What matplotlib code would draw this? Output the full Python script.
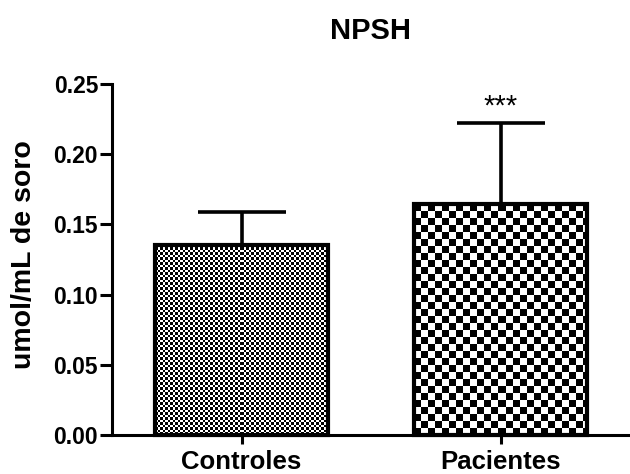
import numpy as np
import matplotlib
matplotlib.use('Agg')
import matplotlib.pyplot as plt

# ---- data ----
categories = ['Controles', 'Pacientes']
means = [0.135, 0.1645]
errors_up = [0.0235, 0.0575]
yticks = [0.00, 0.05, 0.10, 0.15, 0.20, 0.25]
ytick_labels = ['0.00', '0.05', '0.10', '0.15', '0.20', '0.25']
title_text = 'NPSH'
ylabel_text = 'umol/mL de soro'
significance = ['', '***']

plt.rcParams['font.family'] = ['Liberation Sans', 'DejaVu Sans']

fig = plt.figure(figsize=(6.3, 4.74), dpi=100)
ax = fig.add_axes([112 / 630, 39 / 474, 518 / 630, 351 / 474])
ax.set_xlim(-0.5, 1.5)
ax.set_ylim(0, 0.25)

x = np.arange(len(categories))
bar_width = 0.665
cell_px = [2.5, 7.0]

bars = ax.bar(x, means, width=bar_width, facecolor='none', edgecolor='black',
              linewidth=3, zorder=3, clip_on=False)

# checkerboard fills
for bar, cell in zip(bars, cell_px):
    x0, y0 = bar.get_x(), bar.get_y()
    x1, y1 = x0 + bar.get_width(), y0 + bar.get_height()
    (px0, py0), (px1, py1) = ax.transData.transform([(x0, y0), (x1, y1)])
    w = int(round(px1 - px0))
    h = int(round(py1 - py0))
    jj, ii = np.meshgrid(np.arange(w), np.arange(h))
    board = (np.floor(jj / cell) + np.floor(ii / cell)) % 2
    im = ax.imshow(board, cmap='gray', vmin=0, vmax=1, extent=(x0, x1, y0, y1),
                   origin='lower', interpolation='nearest', aspect='auto', zorder=2)
    im.set_clip_path(bar)

ax.set_xlim(-0.5, 1.5)
ax.set_ylim(0, 0.25)

# upper error bars
ax.errorbar(x, means, yerr=[np.zeros(len(means)), errors_up], fmt='none',
            ecolor='black', elinewidth=2.6, capsize=32, capthick=2.6, zorder=1)

for xi, m, e, s in zip(x, means, errors_up, significance):
    if s:
        ax.annotate(s, xy=(xi, m + e), xytext=(0, 6), textcoords='offset points',
                    ha='center', va='baseline', fontsize=21, color='black')

ax.set_xticks(x)
ax.set_xticklabels(categories, fontsize=18.5, fontweight='bold')
ax.set_yticks(yticks)
ax.set_yticklabels(ytick_labels, fontsize=16.5, fontweight='bold')

for side in ['top', 'right']:
    ax.spines[side].set_visible(False)
for side in ['left', 'bottom']:
    ax.spines[side].set_linewidth(2.2)
    ax.spines[side].set_color('black')

ax.tick_params(axis='y', length=8.5, width=2.2, pad=1.5, colors='black')
ax.tick_params(axis='x', length=6.5, width=2.2, pad=4, colors='black')

ax.set_title(title_text, fontsize=21, fontweight='bold', pad=32.5)
fig.text(24 / 630, 1 - 255 / 474, ylabel_text, rotation=90, ha='center', va='center',
         fontsize=20.5, fontweight='bold')

fig.savefig('out.png', dpi=100)
